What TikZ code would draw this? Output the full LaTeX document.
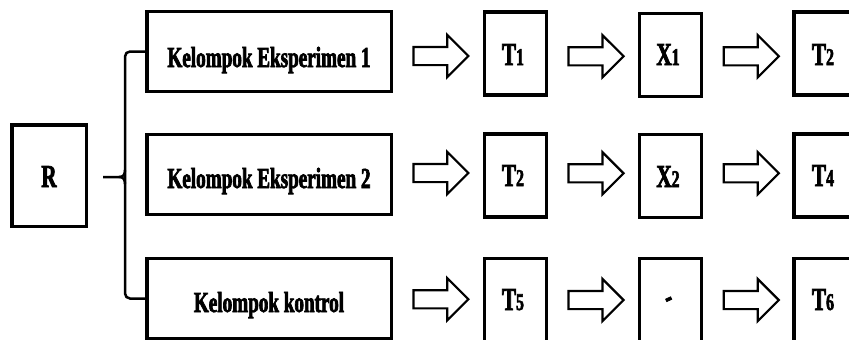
\documentclass[tikz,border=0pt]{standalone}
\usepackage{fontspec}
\newfontfamily\labelfont[FakeStretch=0.66, BoldFeatures={FakeBold=2.4}]{Liberation Serif}
\usetikzlibrary{shapes.arrows,calc}

\tikzset{
  box/.style={draw, line width=3.5pt, inner sep=0pt},
  groupbox/.style={box, minimum width=244.5pt, minimum height=80pt},
  smallbox/.style={box, minimum width=62pt, minimum height=83pt},
  rbox/.style={box, minimum width=74.5pt, minimum height=101.5pt},
  grouplabel/.style={anchor=base, inner sep=0pt, font=\labelfont\bfseries\fontsize{29}{29}\selectfont},
  boxlabel/.style={anchor=base, inner sep=0pt, font=\labelfont\bfseries\fontsize{32}{32}\selectfont},
  blockarrow/.style={single arrow, draw, line width=2.2pt, inner sep=0pt,
    text height=8pt, text depth=8pt, text width=0pt,
    minimum height=55pt, single arrow head extend=12pt},
  brace/.style={line width=2.5pt, rounded corners=5pt},
}
\newcommand\idx[1]{{\fontsize{24}{24}\selectfont #1}}

\begin{document}
\begin{tikzpicture}[x=1pt, y=-1pt]
\useasboundingbox (0,0) rectangle (849,340);
\clip (0,0) rectangle (849,340);

% random assignment
\node[rbox] (r) at (49,175.5) {};
\node[boxlabel] (rl) at (49,187) {R};

% groups
\node[groupbox] (g1) at (269,51.5) {};
\node[groupbox] (g2) at (269,174.5) {};
\node[groupbox] (g3) at (269,298.5) {};
\node[grouplabel] (g1l) at (269,67) {Kelompok Eksperimen 1};
\node[grouplabel] (g2l) at (269,188) {Kelompok Eksperimen 2};
\node[grouplabel] (g3l) at (269,312) {Kelompok kontrol};

% pretest / treatment / posttest boxes
\node[smallbox] (a1) at (515.5,53.5) {};
\node[smallbox] (b1) at (670.5,55) {};
\node[smallbox] (c1) at (825,53.5) {};
\node[smallbox] (a2) at (515.5,175.5) {};
\node[smallbox] (b2) at (670.5,176) {};
\node[smallbox] (c2) at (825,175.5) {};
\node[smallbox] (a3) at (515.5,300) {};
\node[smallbox] (b3) at (670.5,300) {};
\node[smallbox] (c3) at (825,300) {};

\node[boxlabel] (a1l) at (513,65) {T\idx{1}};
\node[boxlabel] (b1l) at (668,65) {X\idx{1}};
\node[boxlabel] (c1l) at (823,65) {T\idx{2}};
\node[boxlabel] (a2l) at (513,186) {T\idx{2}};
\node[boxlabel] (b2l) at (668,187) {X\idx{2}};
\node[boxlabel] (c2l) at (823,186) {T\idx{4}};
\node[boxlabel] (a3l) at (513,310) {T\idx{5}};
\node[inner sep=0pt, rotate=25, font=\labelfont\bfseries\fontsize{32}{32}\selectfont] (b3l) at (670,302) {-};
\node[boxlabel] (c3l) at (823,310) {T\idx{6}};

% block arrows between the boxes
\node[blockarrow] (p1) at ($(g1.east)!0.5!(a1.west)+(-1.5,3.5)$) {};
\node[blockarrow] (q1) at ($(a1.east)!0.5!(b1.west)+(-1.5,2)$) {};
\node[blockarrow] (s1) at ($(b1.east)!0.5!(c1.west)+(-1,2)$) {};
\node[blockarrow] (p2) at ($(g2.east)!0.5!(a2.west)+(-1.5,-2)$) {};
\node[blockarrow] (q2) at ($(a2.east)!0.5!(b2.west)+(-1.5,-2.5)$) {};
\node[blockarrow] (s2) at ($(b2.east)!0.5!(c2.west)+(-1,-2.5)$) {};
\node[blockarrow] (p3) at ($(g3.east)!0.5!(a3.west)+(-1.5,0)$) {};
\node[blockarrow] (q3) at ($(a3.east)!0.5!(b3.west)+(-1.5,0)$) {};
\node[blockarrow] (s3) at ($(b3.east)!0.5!(c3.west)+(-1,0)$) {};

% brace from R to the three groups
\coordinate (bt) at (103,177);
\coordinate (bx) at (125,177);
\draw[brace] (g1.west) -| (bx) |- (g3.west);
\draw[line width=2.5pt] (bt) -- (119,177) .. controls (123,177) and (125,175) .. (125,170);
\draw[line width=2.5pt] (119,177) .. controls (123,177) and (125,179) .. (125,184);
\end{tikzpicture}
\end{document}
